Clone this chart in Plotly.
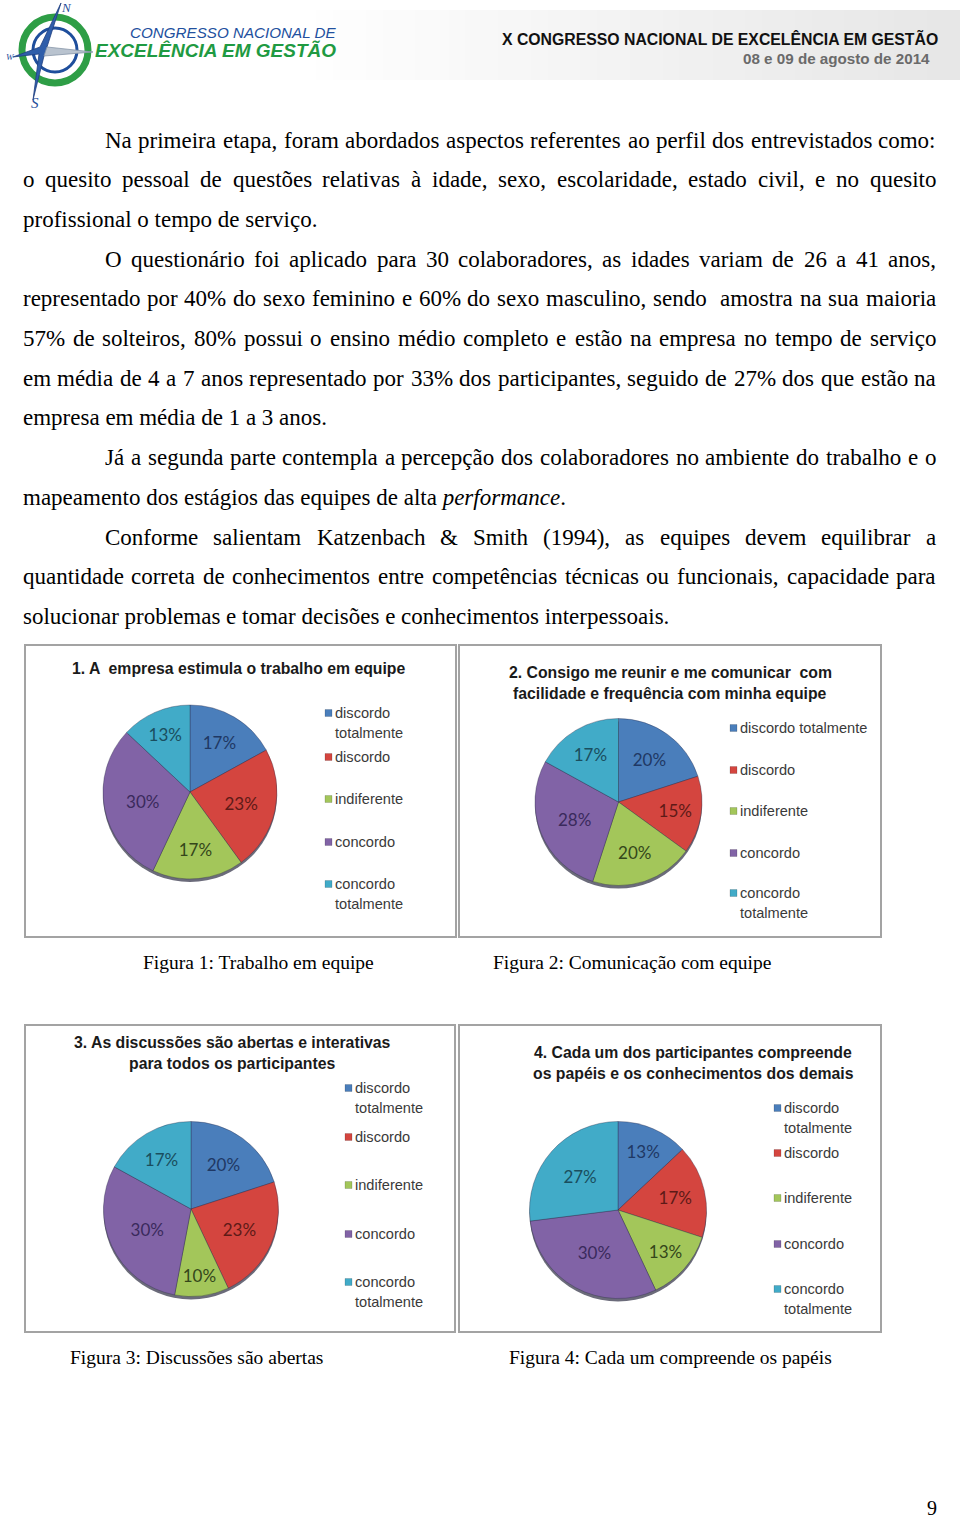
import plotly.graph_objects as go
import unicodedata

W, H = 960, 1519


def X(px):
    return px / W


def Y(py):
    return 1 - py / H


# ---------------- data ----------------
categories = ["discordo totalmente", "discordo", "indiferente", "concordo", "concordo totalmente"]
chart1_values = [17, 23, 17, 30, 13]
chart2_values = [20, 15, 20, 28, 17]
chart3_values = [20, 23, 10, 30, 17]
chart4_values = [13, 17, 13, 30, 27]

chart_titles = [
    ["1. A  empresa estimula o trabalho em equipe"],
    ["2. Consigo me reunir e me comunicar  com", "facilidade e frequência com minha equipe"],
    ["3. As discussões são abertas e interativas", "para todos os participantes"],
    ["4. Cada um dos participantes compreende", "os papéis e os conhecimentos dos demais"],
]
legend_labels_a = [["discordo", "totalmente"], ["discordo"], ["indiferente"], ["concordo"], ["concordo", "totalmente"]]
legend_labels_b = [["discordo totalmente"], ["discordo"], ["indiferente"], ["concordo"], ["concordo", "totalmente"]]
captions = [
    "Figura 1: Trabalho em equipe",
    "Figura 2: Comunicação com equipe",
    "Figura 3: Discussões são abertas",
    "Figura 4: Cada um compreende os papéis",
]
body_lines = [
    ("Na primeira etapa, foram abordados aspectos referentes ao perfil dos entrevistados como:", True, True),
    ("o quesito pessoal de questões relativas à idade, sexo, escolaridade, estado civil, e no quesito", False, True),
    ("profissional o tempo de serviço.", False, False),
    ("O questionário foi aplicado para 30 colaboradores, as idades variam de 26 a 41 anos,", True, True),
    ("representado por 40% do sexo feminino e 60% do sexo masculino, sendo  amostra na sua maioria", False, True),
    ("57% de solteiros, 80% possui o ensino médio completo e estão na empresa no tempo de serviço", False, True),
    ("em média de 4 a 7 anos representado por 33% dos participantes, seguido de 27% dos que estão na", False, True),
    ("empresa em média de 1 a 3 anos.", False, False),
    ("Já a segunda parte contempla a percepção dos colaboradores no ambiente do trabalho e o", True, True),
    ("mapeamento dos estágios das equipes de alta <i>performance</i>.", False, False),
    ("Conforme salientam Katzenbach & Smith (1994), as equipes devem equilibrar a", True, True),
    ("quantidade correta de conhecimentos entre competências técnicas ou funcionais, capacidade para", False, True),
    ("solucionar problemas e tomar decisões e conhecimentos interpessoais.", False, False),
]
header_title = "X CONGRESSO NACIONAL DE EXCELÊNCIA EM GESTÃO"
header_date = "08 e 09 de agosto de 2014"
logo_line1 = "CONGRESSO NACIONAL DE"
logo_line2 = "EXCELÊNCIA EM GESTÃO"
page_number = "9"

# ---------------- style ----------------
slice_colors = ["#4A7EBB", "#D4453F", "#A3C65A", "#8163A6", "#41ABC8"]
text_colors = ["#1F3864", "#5E1A17", "#34461A", "#3A2A5C", "#1A4E5E"]
SERIF = "Liberation Serif, Times New Roman, serif"
SANS = "Liberation Sans, Arial, sans-serif"
PIEFONT = "Lato, Noto Sans, sans-serif"

# Times / Liberation Serif advance widths (per 1000 em)
TW = {' ': 250, 'a': 444, 'b': 500, 'c': 444, 'd': 500, 'e': 444, 'f': 333, 'g': 500, 'h': 500, 'i': 278,
      'j': 278, 'k': 500, 'l': 278, 'm': 778, 'n': 500, 'o': 500, 'p': 500, 'q': 500, 'r': 333, 's': 389,
      't': 278, 'u': 500, 'v': 500, 'w': 722, 'x': 500, 'y': 500, 'z': 444,
      'A': 722, 'B': 667, 'C': 667, 'D': 722, 'E': 611, 'F': 556, 'G': 722, 'H': 722, 'I': 333, 'J': 389,
      'K': 722, 'L': 611, 'M': 889, 'N': 722, 'O': 722, 'P': 556, 'Q': 722, 'R': 667, 'S': 556, 'T': 611,
      'U': 722, 'V': 722, 'W': 944, 'X': 722, 'Y': 722, 'Z': 611,
      ',': 250, '.': 250, ':': 278, ';': 278, '%': 833, '&': 778, '(': 333, ')': 333, '-': 333}
for dgt in "0123456789":
    TW[dgt] = 500


def tw(word, fs):
    tot = 0
    for ch in word:
        base = unicodedata.normalize("NFD", ch)[0]
        tot += TW.get(base, 500)
    return tot * fs / 1000.0


def esc(s):
    return s.replace("&", "&amp;")


fig = go.Figure()
annotations = []
shapes = []


def ann(x, y, text, size, color="#000", family=SERIF, xanchor="left", yanchor="middle", weight=None, style=None):
    f = dict(size=size, color=color, family=family)
    if weight:
        f["weight"] = weight
    if style:
        f["style"] = style
    annotations.append(dict(x=X(x), y=Y(y), xref="paper", yref="paper", text=text, showarrow=False,
                            xanchor=xanchor, yanchor=yanchor, font=f, borderpad=0, borderwidth=0))


# ---------------- header ----------------
nstrip = 40
x_start, x_end = 300, 960
for i in range(nstrip):
    t = i / (nstrip - 1)
    g = int(255 - 24 * t)
    shapes.append(dict(type="rect", xref="paper", yref="paper",
                       x0=X(x_start + (x_end - x_start) * i / nstrip), x1=X(x_start + (x_end - x_start) * (i + 1) / nstrip + 0.5),
                       y0=Y(80), y1=Y(10), line=dict(width=0), fillcolor=f"rgb({g},{g},{g})", layer="below"))

# logo rings
shapes.append(dict(type="circle", xref="paper", yref="paper", x0=X(22), x1=X(88), y0=Y(83), y1=Y(17),
                   line=dict(color="#2E9E46", width=7), fillcolor="rgba(0,0,0,0)"))
shapes.append(dict(type="circle", xref="paper", yref="paper", x0=X(33), x1=X(77), y0=Y(72), y1=Y(28),
                   line=dict(color="#1E4E9C", width=3), fillcolor="rgba(0,0,0,0)"))


def pth(pts):
    return "M " + " L ".join(f"{X(a):.5f},{Y(b):.5f}" for a, b in pts) + " Z"


cx0, cy0 = 43, 51
star_blue = [(61, 3), (cx0 + 4, cy0 - 4), (cx0 + 6, cy0 + 1), (cx0 + 1, cy0 + 5), (33, 100), (cx0 - 4, cy0 + 3),
             (13, 57), (cx0 - 3, cy0 - 4)]
shapes.append(dict(type="path", xref="paper", yref="paper", path=pth(star_blue), fillcolor="#2F5EAA",
                   line=dict(color="#1E3F80", width=0.8)))
star_e = [(cx0 + 4, cy0 - 4), (93, 52), (cx0 + 1, cy0 + 5)]
shapes.append(dict(type="path", xref="paper", yref="paper", path=pth(star_e), fillcolor="#B9C3CF",
                   line=dict(color="#8796A8", width=0.8)))
ann(66, 8, "N", 13, "#1F4E9A", SERIF, "center", style="italic")
ann(10, 57, "W", 9, "#1F4E9A", SERIF, "center", style="italic")
ann(35, 103, "S", 15, "#1F4E9A", SERIF, "center", style="italic")
ann(130, 32, logo_line1, 15.2, "#22509E", SANS, "left", style="italic")
ann(95, 51, logo_line2, 19, "#1F9A42", SANS, "left", weight="bold", style="italic")

ann(938, 38, header_title, 15.8, "#111111", SANS, "right", weight="bold")
ann(930, 59, header_date, 15.2, "#6A6A6A", SANS, "right", weight="bold")

# ---------------- body text ----------------
FS = 23
L_IND, L_NO, R_EDGE = 105, 22.5, 936
for i, (line, indent, justify) in enumerate(body_lines):
    y = 140 + i * 39.7
    left = L_IND if indent else L_NO
    if not justify:
        ann(left, y, esc(line), FS, "#000", SERIF, "left")
        continue
    words = line.split(" ")
    widths = [tw(w, FS) for w in words]
    gap = (R_EDGE - left - sum(widths)) / (len(words) - 1)
    x = left
    for w, wd in zip(words, widths):
        if w:
            ann(x, y, esc(w), FS, "#000", SERIF, "left")
        x += wd + gap

# ---------------- chart boxes ----------------
boxes = [(25, 645, 456, 937), (459, 645, 881, 937), (25, 1025, 455, 1332), (459, 1025, 881, 1332)]
for (x0, y0, x1, y1) in boxes:
    shapes.append(dict(type="rect", xref="paper", yref="paper", x0=X(x0), x1=X(x1), y0=Y(y1), y1=Y(y0),
                       line=dict(color="#A3A3A3", width=2), fillcolor="rgba(0,0,0,0)"))

# ---------------- pies ----------------
pie_values = [chart1_values, chart2_values, chart3_values, chart4_values]
pie_geom = [(190, 792, 87), (618.5, 802, 83.5), (191, 1209, 87.5), (618, 1210, 88.5)]
for vals, (cx, cy, r) in zip(pie_values, pie_geom):
    # thin 3-D rim under the pie
    shapes.append(dict(type="circle", xref="paper", yref="paper", x0=X(cx - r), x1=X(cx + r),
                       y0=Y(cy + r + 3), y1=Y(cy - r + 3), fillcolor="#6b6b7a", line=dict(width=0),
                       layer="below"))
    fig.add_trace(go.Pie(
        labels=categories, values=vals, sort=False, direction="clockwise", rotation=0,
        domain=dict(x=[X(cx - r), X(cx + r)], y=[Y(cy + r), Y(cy - r)]),
        marker=dict(colors=slice_colors, line=dict(color="rgba(40,40,70,0.35)", width=1)),
        texttemplate="%{value}%", textposition="inside", insidetextorientation="horizontal",
        textfont=dict(family=PIEFONT, size=17, color=text_colors),
        showlegend=False, hoverinfo="label+value",
    ))

# ---------------- titles ----------------
title_pos = [[(239, 668)], [(670, 672), (670, 693)], [(232, 1042), (232, 1063)], [(693, 1052), (693, 1073)]]
for lines, poss in zip(chart_titles, title_pos):
    for t, (x, y) in zip(lines, poss):
        ann(x, y, t, 15.8, "#1A1A1A", SANS, "center", weight="bold")

# ---------------- legends ----------------
legend_sets = [legend_labels_a, legend_labels_b, legend_labels_a, legend_labels_a]
legend_x = [335, 740, 355, 784]
legend_ys = [[713, 757, 799, 842, 884], [728, 770, 811, 853, 893], [1088, 1137, 1185, 1234, 1282],
             [1108, 1153, 1198, 1244, 1289]]
for labs, lx, ys in zip(legend_sets, legend_x, legend_ys):
    for k, (lab, y) in enumerate(zip(labs, ys)):
        shapes.append(dict(type="rect", xref="paper", yref="paper", x0=X(lx - 10), x1=X(lx - 3),
                           y0=Y(y + 3.5), y1=Y(y - 3.5), fillcolor=slice_colors[k],
                           line=dict(color="rgba(0,0,0,0.3)", width=0.5)))
        for j, part in enumerate(lab):
            ann(lx, y + j * 19.5, part, 14.6, "#3A3A3A", SANS, "left")

# ---------------- captions ----------------
cap_pos = [(143, 962), (493, 962), (70, 1357), (509, 1357)]
for c, (x, y) in zip(captions, cap_pos):
    ann(x, y, c, 19.5, "#000", SERIF, "left")

ann(932, 1508, page_number, 20, "#000", SERIF, "center")

fig.update_layout(
    width=W, height=H, margin=dict(l=0, r=0, t=0, b=0),
    paper_bgcolor="white", plot_bgcolor="white",
    annotations=annotations, shapes=shapes,
    uniformtext=dict(minsize=17, mode="show"),
)
fig.write_html("out.html", config={"displayModeBar": False},
               post_script="document.body.style.margin='0px';document.body.style.padding='0px';")
